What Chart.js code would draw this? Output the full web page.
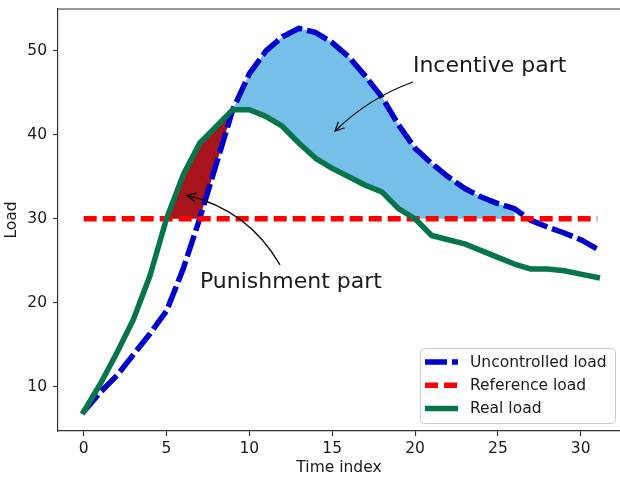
<!DOCTYPE html>
<html>
<head>
<meta charset="utf-8">
<script src="https://cdn.jsdelivr.net/npm/chart.js@4.4.1/dist/chart.umd.min.js"></script>
<style>
  html, body { margin: 0; padding: 0; background: #fff; overflow: hidden; }
  canvas { display: block; }
</style>
</head>
<body>
<canvas id="loadChart" width="620" height="477"></canvas>
<script>
// values
const timeIndex = [0, 1, 2, 3, 4, 5, 6, 7, 8, 9, 10, 11, 12, 13, 14, 15,
                   16, 17, 18, 19, 20, 21, 22, 23, 24, 25, 26, 27, 28, 29, 30, 31];
const uncontrolledLoad = [7, 9.3, 11.3, 13.8, 16.3, 19, 24, 30, 36.5, 43, 47.3, 50, 51.7, 52.7, 52.2, 51,
                          49.3, 47, 44.5, 41.2, 38.4, 36.6, 35, 33.6, 32.6, 31.8, 31.2, 29.8, 29, 28.3, 27.5, 26.4];
const referenceLoad = [30, 30, 30, 30, 30, 30, 30, 30, 30, 30, 30, 30, 30, 30, 30, 30,
                       30, 30, 30, 30, 30, 30, 30, 30, 30, 30, 30, 30, 30, 30, 30, 30];
const realLoad = [7, 10.3, 14, 18, 23.2, 30, 35.2, 39, 41, 43, 43, 42.2, 41, 39, 37.2, 36,
                  35, 34, 33.2, 31.2, 30, 28, 27.5, 27, 26.2, 25.4, 24.6, 24, 24, 23.8, 23.4, 23];
const xTicks = [0, 5, 10, 15, 20, 25, 30];
const yTicks = [10, 20, 30, 40, 50];
const incentiveSpan = [9, 26];
const punishmentSpan = [5, 9];
const notes = [
  { text: 'Incentive part', xytext: [19.87, 47.5], from: [19.87, 46.3], xy: [15.17, 40.45], bend: 10 },
  { text: 'Punishment part', xytext: [7.02, 21.74], from: [11.85, 24.5], xy: [6.23, 32.8], bend: 25 }
];

const font = { family: 'DejaVu Sans', size: 15.5 };
const ink = '#1a1a1a';

// fill boundaries built from the series
const span = (a, b) => timeIndex.filter(t => t >= a && t <= b);
const incentiveX = span(incentiveSpan[0], incentiveSpan[1]);
const punishmentX = span(punishmentSpan[0], punishmentSpan[1]);
const pts = (xs, f) => xs.map(t => ({ x: t, y: f(t) }));

const hidden = { borderWidth: 0, pointRadius: 0, tension: 0 };

// keep the plot box where the layout padding puts it
const noLabelPadding = axis => {
  axis.paddingTop = 0; axis.paddingBottom = 0;
  axis.paddingLeft = 0; axis.paddingRight = 0;
};

// inside legend, lower right
const insideLegend = {
  id: 'insideLegend',
  afterDraw(chart) {
    const { ctx, chartArea } = chart;
    // the right spine lies just outside the picture
    ctx.save();
    ctx.fillStyle = '#fff';
    ctx.fillRect(chart.width - 4, chartArea.top + 1, 4, chartArea.bottom - chartArea.top - 2);
    const w = 195, h = 75;
    const x0 = chartArea.right - 5 - w, y0 = chartArea.bottom - 8 - h;
    ctx.beginPath();
    ctx.roundRect(x0 + 0.5, y0 + 0.5, w, h, 4);
    ctx.fillStyle = 'rgba(255,255,255,0.8)';
    ctx.fill();
    ctx.strokeStyle = '#cccccc';
    ctx.lineWidth = 1;
    ctx.stroke();
    const items = chart.data.datasets.filter(d => d.label);
    items.forEach((d, i) => {
      const y = y0 + 14 + i * 23.2;
      ctx.beginPath();
      ctx.setLineDash(d.borderDash || []);
      ctx.lineCap = 'butt';
      ctx.strokeStyle = d.borderColor;
      ctx.lineWidth = d.borderWidth;
      ctx.moveTo(x0 + 5, y);
      ctx.lineTo(x0 + 38, y);
      ctx.stroke();
      ctx.setLineDash([]);
      ctx.fillStyle = ink;
      ctx.font = `${font.size}px ${font.family}`;
      ctx.textBaseline = 'middle';
      ctx.fillText(d.label, x0 + 50, y + 1);
    });
    ctx.restore();
  }
};

// text labels with curved arrows, plus the top spine
const annotate = {
  id: 'annotate',
  afterDatasetsDraw(chart) {
    const { ctx, scales: { x, y }, chartArea } = chart;
    ctx.save();
    ctx.strokeStyle = '#333';
    ctx.lineWidth = 1.2;
    ctx.beginPath();
    ctx.moveTo(chartArea.left, chartArea.top);
    ctx.lineTo(chart.width, chartArea.top);
    ctx.stroke();
    notes.forEach(n => {
      ctx.fillStyle = ink;
      ctx.font = `22px ${font.family}`;
      ctx.textBaseline = 'alphabetic';
      ctx.fillText(n.text, x.getPixelForValue(n.xytext[0]), y.getPixelForValue(n.xytext[1]));
      const p0 = { x: x.getPixelForValue(n.from[0]), y: y.getPixelForValue(n.from[1]) };
      const p2 = { x: x.getPixelForValue(n.xy[0]), y: y.getPixelForValue(n.xy[1]) };
      const dx = p2.x - p0.x, dy = p2.y - p0.y, len = Math.hypot(dx, dy);
      const cx = (p0.x + p2.x) / 2 - dy / len * n.bend;
      const cy = (p0.y + p2.y) / 2 + dx / len * n.bend;
      ctx.strokeStyle = '#111';
      ctx.lineWidth = 1.3;
      ctx.beginPath();
      ctx.moveTo(p0.x, p0.y);
      ctx.quadraticCurveTo(cx, cy, p2.x, p2.y);
      ctx.stroke();
      const a = Math.atan2(p2.y - cy, p2.x - cx);
      ctx.beginPath();
      ctx.moveTo(p2.x - 10 * Math.cos(a - 0.45), p2.y - 10 * Math.sin(a - 0.45));
      ctx.lineTo(p2.x, p2.y);
      ctx.lineTo(p2.x - 10 * Math.cos(a + 0.45), p2.y - 10 * Math.sin(a + 0.45));
      ctx.stroke();
    });
    ctx.restore();
  }
};

const ctx = document.getElementById('loadChart').getContext('2d');
new Chart(ctx, {
  type: 'line',
  data: {
    datasets: [
      // 0,1: incentive part
      { ...hidden, data: pts(incentiveX, t => Math.max(realLoad[t], referenceLoad[t])), fill: false, order: 6 },
      { ...hidden, data: pts(incentiveX, t => uncontrolledLoad[t]), fill: { target: 0, above: '#74c0e8', below: '#74c0e8' }, order: 5 },
      // 2,3: punishment part
      { ...hidden, data: pts(punishmentX, t => Math.max(uncontrolledLoad[t], referenceLoad[t])), fill: false, order: 4 },
      { ...hidden, data: pts(punishmentX, t => realLoad[t]), fill: { target: 2, above: '#a8141c', below: '#a8141c' }, order: 3 },
      {
        label: 'Uncontrolled load',
        data: pts(timeIndex, t => uncontrolledLoad[t]),
        borderColor: '#0000cc', borderWidth: 5.5, borderDash: [22, 5],
        borderCapStyle: 'butt', borderJoinStyle: 'round',
        pointRadius: 0, tension: 0, fill: false, order: 2
      },
      {
        label: 'Reference load',
        data: pts(timeIndex, t => referenceLoad[t]),
        borderColor: '#ff0000', borderWidth: 5.5, borderDash: [13, 6],
        borderCapStyle: 'butt', pointRadius: 0, tension: 0, fill: false, order: 1
      },
      {
        label: 'Real load',
        data: pts(timeIndex, t => realLoad[t]),
        borderColor: '#08744a', borderWidth: 5.5,
        borderCapStyle: 'square', borderJoinStyle: 'round',
        pointRadius: 0, tension: 0, fill: false, order: 0
      }
    ]
  },
  options: {
    responsive: false,
    animation: false,
    layout: { padding: { top: 9, right: 0, left: 0, bottom: 0 } },
    plugins: {
      legend: { display: false },
      tooltip: { enabled: false }
    },
    scales: {
      x: {
        type: 'linear',
        min: -1.55,
        max: 32.37,
        afterBuildTicks: axis => { axis.ticks = xTicks.map(v => ({ value: v })); },
        afterFit: axis => { axis.height = 46; noLabelPadding(axis); },
        ticks: { font, color: ink, padding: 4, maxRotation: 0 },
        grid: { drawOnChartArea: false, tickLength: 5, color: '#333', tickWidth: 1.2 },
        border: { color: '#333', width: 1.2 },
        title: { display: true, text: 'Time index', font, color: ink, padding: 0 }
      },
      y: {
        min: 4.7,
        max: 55,
        afterBuildTicks: axis => { axis.ticks = yTicks.map(v => ({ value: v })); },
        afterFit: axis => { axis.width = 58; noLabelPadding(axis); },
        ticks: { font, color: ink, padding: 6 },
        grid: { drawOnChartArea: false, tickLength: 5, color: '#333', tickWidth: 1.2 },
        border: { color: '#333', width: 1.2 },
        title: { display: true, text: 'Load', font, color: ink, padding: { top: 3 } }
      }
    }
  },
  plugins: [annotate, insideLegend]
});
</script>
</body>
</html>
